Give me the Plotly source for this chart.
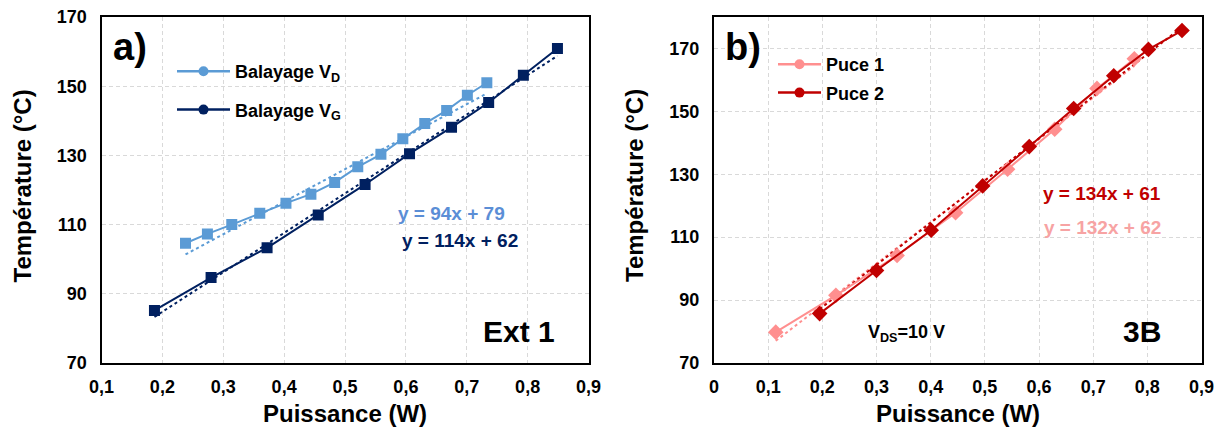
import plotly.graph_objects as go

# ---------------- data ----------------
# Panel a) Ext 1
vd_x = [0.238, 0.274, 0.314, 0.360, 0.403, 0.444, 0.483, 0.521, 0.559, 0.595, 0.631, 0.667, 0.701, 0.733]
vd_y = [104.6, 107.3, 110.0, 113.3, 116.2, 118.8, 122.2, 126.7, 130.3, 134.8, 139.2, 143.0, 147.4, 151.0]
vg_x = [0.187, 0.280, 0.372, 0.456, 0.533, 0.606, 0.675, 0.736, 0.793, 0.849]
vg_y = [85.2, 94.7, 103.3, 112.8, 121.6, 130.5, 138.1, 145.3, 153.2, 160.9]
trend_a_slope = [94, 114]
trend_a_icpt = [79, 62]

# Panel b) 3B
p1_x = [0.114, 0.225, 0.338, 0.446, 0.542, 0.629, 0.707, 0.776]
p1_y = [79.8, 91.5, 104.2, 117.8, 131.6, 144.3, 157.3, 166.7]
p2_x = [0.195, 0.300, 0.401, 0.496, 0.582, 0.664, 0.738, 0.802, 0.864]
p2_y = [85.7, 99.4, 112.2, 126.3, 138.8, 150.9, 161.3, 169.7, 175.7]
trend_b_slope = [132, 134]
trend_b_icpt = [62, 61]

xticks_a = [0.1, 0.2, 0.3, 0.4, 0.5, 0.6, 0.7, 0.8, 0.9]
xtext_a = ["0,1", "0,2", "0,3", "0,4", "0,5", "0,6", "0,7", "0,8", "0,9"]
xticks_b = [0, 0.1, 0.2, 0.3, 0.4, 0.5, 0.6, 0.7, 0.8, 0.9]
xtext_b = ["0", "0,1", "0,2", "0,3", "0,4", "0,5", "0,6", "0,7", "0,8", "0,9"]
yticks = [70, 90, 110, 130, 150, 170]

# ---------------- style ----------------
OFF = 8  # page body margin
W, H = 1223 - OFF, 428 - OFF
C_VD = "#5B9BD5"
C_VG = "#002060"
C_P1 = "#FF8F8F"
C_P2 = "#C00000"
FONT = "Liberation Sans"


def px(x):
    return (x - OFF) / W


def py(y):
    return 1 - (y - OFF) / H


fig = go.Figure()

# panel a traces
fig.add_trace(go.Scatter(x=vd_x, y=vd_y, mode="lines+markers", xaxis="x", yaxis="y",
                         line=dict(color=C_VD, width=2),
                         marker=dict(symbol="square", size=11, color=C_VD), showlegend=False))
fig.add_trace(go.Scatter(x=vg_x, y=vg_y, mode="lines+markers", xaxis="x", yaxis="y",
                         line=dict(color=C_VG, width=2),
                         marker=dict(symbol="square", size=11, color=C_VG), showlegend=False))
for xs, s, b, c in [(vd_x, trend_a_slope[0], trend_a_icpt[0], C_VD),
                    (vg_x, trend_a_slope[1], trend_a_icpt[1], C_VG)]:
    tx = [min(xs), max(xs)]
    fig.add_trace(go.Scatter(x=tx, y=[s * v + b for v in tx], mode="lines", xaxis="x", yaxis="y",
                             line=dict(color=c, width=2, dash="dot"), showlegend=False))

# panel b traces
for xs, s, b, c in [(p1_x, trend_b_slope[0], trend_b_icpt[0], C_P1),
                    (p2_x, trend_b_slope[1], trend_b_icpt[1], C_P2)]:
    tx = [min(xs), max(xs)]
    fig.add_trace(go.Scatter(x=tx, y=[s * v + b for v in tx], mode="lines", xaxis="x2", yaxis="y2",
                             line=dict(color=c, width=2, dash="dot"), showlegend=False))
fig.add_trace(go.Scatter(x=p1_x, y=p1_y, mode="lines+markers", xaxis="x2", yaxis="y2",
                         line=dict(color=C_P1, width=2),
                         marker=dict(symbol="diamond", size=12, color=C_P1), showlegend=False))
fig.add_trace(go.Scatter(x=p2_x, y=p2_y, mode="lines+markers", xaxis="x2", yaxis="y2",
                         line=dict(color=C_P2, width=2),
                         marker=dict(symbol="diamond", size=12, color=C_P2), showlegend=False))

# legend entries (circle markers as in the original legend)
for name, c, g in [("Balayage V<sub>D</sub>", C_VD, "a1"), ("Balayage V<sub>G</sub>", C_VG, "a2")]:
    fig.add_trace(go.Scatter(x=[None], y=[None], mode="lines+markers", xaxis="x", yaxis="y",
                             name=name, legend="legend", legendgroup=g,
                             line=dict(color=c, width=2.5), marker=dict(symbol="circle", size=10, color=c)))
for name, c, g in [("Puce 1", C_P1, "b1"), ("Puce 2", C_P2, "b2")]:
    fig.add_trace(go.Scatter(x=[None], y=[None], mode="lines+markers", xaxis="x2", yaxis="y2",
                             name=name, legend="legend2", legendgroup=g,
                             line=dict(color=c, width=2.5), marker=dict(symbol="circle", size=10, color=c)))

tickfont = dict(family=FONT, size=18, color="black", weight="bold")
common = dict(showline=True, linecolor="black", linewidth=2, mirror=True, ticks="",
              showgrid=True, gridcolor="#D9D9D9", griddash="4px,3px", gridwidth=1,
              zeroline=False, tickfont=tickfont, automargin=False, ticklabeloverflow="allow")

fig.update_layout(
    width=W, height=H, margin=dict(l=0, r=0, t=0, b=0),
    paper_bgcolor="white", plot_bgcolor="white",
    xaxis=dict(domain=[px(101.5), px(588.5)], range=[0.1, 0.9], tickvals=xticks_a, ticktext=xtext_a,
               anchor="y", ticklabelstandoff=6, **common),
    yaxis=dict(domain=[py(363), py(17)], range=[70, 170], anchor="x", ticklabelstandoff=9,
               tickvals=yticks, ticktext=[str(v) for v in yticks], **common),
    xaxis2=dict(domain=[px(714), px(1201.5)], range=[0, 0.9], tickvals=xticks_b, ticktext=xtext_b,
                anchor="y2", ticklabelstandoff=6, **common),
    yaxis2=dict(domain=[py(363), py(17)], range=[70, 180], anchor="x2", ticklabelstandoff=9,
                tickvals=yticks, ticktext=[str(v) for v in yticks], **common),
    legend=dict(x=px(172), y=py(53), xanchor="left", yanchor="top", bgcolor="rgba(0,0,0,0)",
                font=dict(family=FONT, size=18, color="black", weight="bold"),
                tracegroupgap=12, itemwidth=53),
    legend2=dict(x=px(773), y=py(46), xanchor="left", yanchor="top", bgcolor="rgba(0,0,0,0)",
                 font=dict(family=FONT, size=18, color="black", weight="bold"),
                 tracegroupgap=2, itemwidth=43),
)


def ann(text, x, y, size, color="black", angle=0, bold=True):
    fig.add_annotation(text=text, x=px(x), y=py(y), xref="paper", yref="paper",
                       xanchor="center", yanchor="middle", showarrow=False, textangle=angle,
                       font=dict(family=FONT, size=size, color=color, weight="bold" if bold else "normal"))


# axis titles
ann("Température (°C)", 21.5, 186, 24, angle=-90)
ann("Température (°C)", 634, 186, 24, angle=-90)
ann("Puissance (W)", 345, 413, 24)
ann("Puissance (W)", 958, 413, 24)

# panel labels
ann("a)", 130, 47, 38)
ann("b)", 743, 47, 38)
ann("Ext 1", 519, 331, 30)
ann("3B", 1142, 331, 30)
ann("V<sub>DS</sub>=10 V", 906, 333, 18)

# equations
ann("y = 94x + 79", 451, 213, 19, color="#5B8ED6")
ann("y = 114x + 62", 460, 240, 19, color=C_VG)
ann("y = 134x + 61", 1102, 193, 19, color=C_P2)
ann("y = 132x + 62", 1102, 227, 19, color="#F7A3A3")

fig.write_html("out.html")
